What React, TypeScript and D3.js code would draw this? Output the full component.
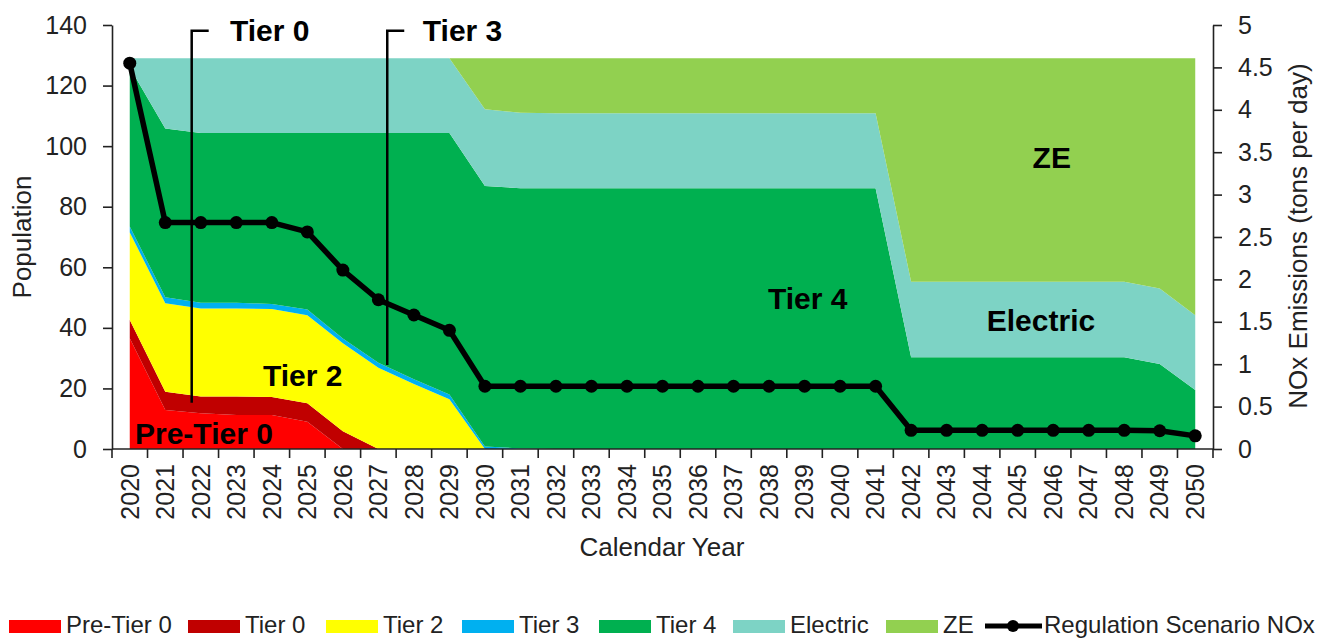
import { useEffect, useRef } from 'react';
import * as d3 from 'd3';

const years = [
  '2020', '2021', '2022', '2023', '2024', '2025', '2026', '2027', '2028', '2029', '2030',
  '2031', '2032', '2033', '2034', '2035', '2036', '2037', '2038', '2039', '2040',
  '2041', '2042', '2043', '2044', '2045', '2046', '2047', '2048', '2049', '2050',
];

// population by tier (stacked, bottom to top)
const preTier0 = [36.6, 12.9, 11.8, 11.2, 11.2, 9.0, 0, 0, 0, 0, 0, 0, 0, 0, 0, 0, 0, 0, 0, 0, 0, 0, 0, 0, 0, 0, 0, 0, 0, 0, 0];
const tier0 = [6.0, 6.0, 5.5, 6.1, 6.0, 6.1, 5.9, 0, 0, 0, 0, 0, 0, 0, 0, 0, 0, 0, 0, 0, 0, 0, 0, 0, 0, 0, 0, 0, 0, 0, 0];
const tier2 = [28.9, 29.2, 29.1, 29.1, 29.0, 29.1, 29.0, 26.8, 21.5, 16.4, 0, 0, 0, 0, 0, 0, 0, 0, 0, 0, 0, 0, 0, 0, 0, 0, 0, 0, 0, 0, 0];
const tier3 = [2.0, 2.0, 1.9, 1.9, 1.7, 1.9, 1.6, 1.7, 1.5, 1.6, 0.8, 0.2, 0, 0, 0, 0, 0, 0, 0, 0, 0, 0, 0, 0, 0, 0, 0, 0, 0, 0, 0];
const tier4 = [
  52.5, 55.7, 56.0, 56.0, 56.4, 58.2, 67.8, 75.8, 81.3, 86.3, 86.0, 85.9,
  86.1, 86.1, 86.1, 86.1, 86.1, 86.1, 86.1, 86.1, 86.1, 86.1,
  30.3, 30.3, 30.3, 30.3, 30.3, 30.3, 30.3, 28.1, 19.5,
];
const electric = [
  3.0, 23.2, 24.7, 24.7, 24.7, 24.7, 24.7, 24.7, 24.7, 24.7, 25.4, 24.9,
  24.8, 24.8, 24.8, 24.8, 24.8, 24.8, 24.8, 24.8, 24.8, 24.8,
  24.9, 24.9, 24.9, 24.9, 24.9, 24.9, 24.9, 24.9, 24.7,
];
const ze = [
  0, 0, 0, 0, 0, 0, 0, 0, 0, 0, 16.8, 18.0,
  18.1, 18.1, 18.1, 18.1, 18.1, 18.1, 18.1, 18.1, 18.1, 18.1,
  73.8, 73.8, 73.8, 73.8, 73.8, 73.8, 73.8, 76.0, 84.8,
];

// NOx emissions, tons per day (right axis)
const noxTpd = [
  4.55, 2.67, 2.67, 2.67, 2.67, 2.56, 2.11, 1.76, 1.58, 1.40, 0.74, 0.74,
  0.74, 0.74, 0.74, 0.74, 0.74, 0.74, 0.74, 0.74, 0.74, 0.74,
  0.22, 0.22, 0.22, 0.22, 0.22, 0.22, 0.22, 0.215, 0.155,
];

const seriesNames = ['Pre-Tier 0', 'Tier 0', 'Tier 2', 'Tier 3', 'Tier 4', 'Electric', 'ZE'];
const seriesValues = [preTier0, tier0, tier2, tier3, tier4, electric, ze];
const seriesColors = ['#ff0000', '#c00000', '#ffff00', '#00b0f0', '#00b050', '#7dd3c5', '#92d050'];

const popTicks = [0, 20, 40, 60, 80, 100, 120, 140];
const noxTicks = [0, 0.5, 1, 1.5, 2, 2.5, 3, 3.5, 4, 4.5, 5];

const FONT = '"Liberation Sans", Arial, sans-serif';

export default function App() {
  const svgRef = useRef<SVGSVGElement>(null);

  useEffect(() => {
    if (!svgRef.current) return;
    const width = 1330;
    const height = 640;
    const left = 112;
    const right = 1213;
    const top = 25;
    const bottom = 449;

    const svg = d3.select(svgRef.current).attr('width', width).attr('height', height);
    svg.selectAll('*').remove();

    const x = d3.scaleBand<string>().domain(years).range([left, right]).padding(0);
    const step = x.step();
    const cx = (yr: string) => (x(yr) as number) + step / 2;
    const xi = (i: number) => left + i * step;
    const yPop = d3.scaleLinear().domain([0, 140]).range([bottom, top]);
    const yNox = d3.scaleLinear().domain([0, 5]).range([bottom, top]);

    // stacked areas
    const rows = years.map((yr, i) => {
      const r: Record<string, number | string> = { year: yr };
      seriesNames.forEach((n, k) => (r[n] = seriesValues[k][i]));
      return r;
    });
    const stack = d3.stack<Record<string, number | string>>().keys(seriesNames);
    const layers = stack(rows);

    const area = d3
      .area<d3.SeriesPoint<Record<string, number | string>>>()
      .x((d) => cx(d.data.year as string))
      .y0((d) => yPop(d[0]))
      .y1((d) => yPop(d[1]));

    svg
      .append('g')
      .selectAll('path')
      .data(layers)
      .join('path')
      .attr('fill', (_, i) => seriesColors[i])
      .attr('d', area);

    // NOx line
    const line = d3
      .line<number>()
      .x((_, i) => cx(years[i]))
      .y((d) => yNox(d));

    svg
      .append('path')
      .datum(noxTpd)
      .attr('fill', 'none')
      .attr('stroke', '#000')
      .attr('stroke-width', 5.5)
      .attr('stroke-linejoin', 'round')
      .attr('d', line);

    svg
      .append('g')
      .selectAll('circle')
      .data(noxTpd)
      .join('circle')
      .attr('cx', (_, i) => cx(years[i]))
      .attr('cy', (d) => yNox(d))
      .attr('r', 6.5)
      .attr('fill', '#000');

    // Tier bracket annotations
    const brackets = [
      { label: 'Tier 0', at: 2.244, low: 15.3, textAt: 3.32 },
      { label: 'Tier 3', at: 7.75, low: 27.7, textAt: 8.75 },
    ];
    brackets.forEach((b) => {
      svg
        .append('path')
        .attr('d', `M${xi(b.at) + 17},${yPop(138.1)}H${xi(b.at)}V${yPop(b.low)}`)
        .attr('fill', 'none')
        .attr('stroke', '#000')
        .attr('stroke-width', 2.5);
      svg
        .append('text')
        .attr('x', xi(b.textAt))
        .attr('y', yPop(134.7))
        .attr('font-family', FONT)
        .attr('font-weight', 700)
        .attr('font-size', 30)
        .attr('fill', '#000')
        .text(b.label);
    });

    // in-chart labels
    const labels = [
      { text: 'Pre-Tier 0', at: 0.648, v: 1.65 },
      { text: 'Tier 2', at: 4.25, v: 20.9 },
      { text: 'Tier 4', at: 18.47, v: 46.2 },
      { text: 'ZE', at: 25.92, v: 92.8 },
      { text: 'Electric', at: 24.63, v: 39.05 },
    ];
    svg
      .append('g')
      .selectAll('text')
      .data(labels)
      .join('text')
      .attr('x', (d) => xi(d.at))
      .attr('y', (d) => yPop(d.v))
      .attr('font-family', FONT)
      .attr('font-weight', 700)
      .attr('font-size', 30)
      .attr('fill', '#000')
      .text((d) => d.text);

    // left axis
    const axisColor = '#222';
    const gl = svg
      .append('g')
      .attr('transform', `translate(${left},0)`)
      .call(d3.axisLeft(yPop).tickValues(popTicks).tickSize(9).tickPadding(16).tickSizeOuter(0));
    gl.select('.domain').attr('stroke', axisColor).attr('stroke-width', 1.6);
    gl.selectAll('line').attr('stroke', axisColor).attr('stroke-width', 1.6);
    gl.selectAll('text').attr('font-family', FONT).attr('font-size', 25).attr('fill', '#222');

    // right axis
    const gr = svg
      .append('g')
      .attr('transform', `translate(${right},0)`)
      .call(
        d3
          .axisRight(yNox)
          .tickValues(noxTicks)
          .tickSize(9)
          .tickPadding(16)
          .tickSizeOuter(0)
          .tickFormat((d) => d3.format('~g')(d as number))
      );
    gr.select('.domain').attr('stroke', axisColor).attr('stroke-width', 1.6);
    gr.selectAll('line').attr('stroke', axisColor).attr('stroke-width', 1.6);
    gr.selectAll('text').attr('font-family', FONT).attr('font-size', 25).attr('fill', '#222');

    // x axis (ticks between categories)
    const gx = svg.append('g');
    gx.append('line')
      .attr('x1', left)
      .attr('x2', right)
      .attr('y1', bottom)
      .attr('y2', bottom)
      .attr('stroke', axisColor)
      .attr('stroke-width', 1.6);
    gx.selectAll('line.tick')
      .data(d3.range(years.length + 1))
      .join('line')
      .attr('class', 'tick')
      .attr('x1', (i) => xi(i))
      .attr('x2', (i) => xi(i))
      .attr('y1', bottom)
      .attr('y2', bottom + 9)
      .attr('stroke', axisColor)
      .attr('stroke-width', 1.6);
    gx.selectAll('text')
      .data(years)
      .join('text')
      .attr('transform', (d) => `translate(${cx(d)},${bottom + 15}) rotate(-90)`)
      .attr('text-anchor', 'end')
      .attr('dy', '0.35em')
      .attr('font-family', FONT)
      .attr('font-size', 25)
      .attr('fill', '#222')
      .text((d) => d);

    // axis titles
    svg
      .append('text')
      .attr('transform', `translate(31,237) rotate(-90)`)
      .attr('text-anchor', 'middle')
      .attr('font-family', FONT)
      .attr('font-size', 26)
      .attr('fill', '#222')
      .text('Population');
    svg
      .append('text')
      .attr('transform', `translate(1307,236) rotate(-90)`)
      .attr('text-anchor', 'middle')
      .attr('font-family', FONT)
      .attr('font-size', 26)
      .attr('fill', '#222')
      .text('NOx Emissions (tons per day)');
    svg
      .append('text')
      .attr('x', 662)
      .attr('y', 556)
      .attr('text-anchor', 'middle')
      .attr('font-family', FONT)
      .attr('font-size', 26)
      .attr('fill', '#222')
      .text('Calendar Year');

    // legend
    const legendX = [9, 188, 326, 462, 599, 733, 886];
    const legend = svg.append('g');
    seriesNames.forEach((name, i) => {
      legend
        .append('rect')
        .attr('x', legendX[i])
        .attr('y', 620)
        .attr('width', 52)
        .attr('height', 13)
        .attr('fill', seriesColors[i]);
      legend
        .append('text')
        .attr('x', legendX[i] + 57)
        .attr('y', 633)
        .attr('font-family', FONT)
        .attr('font-size', 24)
        .attr('fill', '#222')
        .text(name);
    });
    legend
      .append('line')
      .attr('x1', 985)
      .attr('x2', 1042)
      .attr('y1', 626)
      .attr('y2', 626)
      .attr('stroke', '#000')
      .attr('stroke-width', 5);
    legend.append('circle').attr('cx', 1013).attr('cy', 626).attr('r', 6).attr('fill', '#000');
    legend
      .append('text')
      .attr('x', 1044)
      .attr('y', 633)
      .attr('font-family', FONT)
      .attr('font-size', 24)
      .attr('fill', '#222')
      .text('Regulation Scenario NOx');
  }, []);

  return (
    <svg
      ref={svgRef}
      style={{ position: 'absolute', left: 0, top: 0, display: 'block', background: '#fff' }}
    />
  );
}
